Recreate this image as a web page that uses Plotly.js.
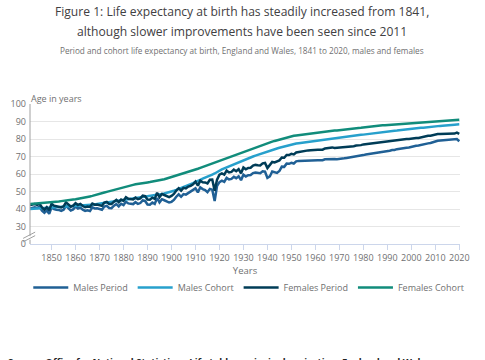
<!DOCTYPE html>
<html>
<head>
<meta charset="utf-8">
<script src="https://cdn.plot.ly/plotly-3.0.1.min.js"></script>
<style>html,body{margin:0;padding:0;background:#fff;}#chart{width:485px;height:360px;}</style>
</head>
<body>
<div id="chart"></div>
<script>
const firstYear = 1841;
const lastYear = 2020;
const seriesNames = ["Males Period", "Males Cohort", "Females Period", "Females Cohort"];
const xTickYears = [1850,1860,1870,1880,1890,1900,1910,1920,1930,1940,1950,1960,1970,1980,1990,2000,2010,2020];
const yTickVals = [20,30,40,50,60,70,80,90,100];
const yTickText = ["0","30","40","50","60","70","80","90","100"];

const malesPeriod = [
40.2,40.4,41.0,40.6,41.2,39.0,37.8,39.2,37.2,41.0,
40.0,39.6,39.5,38.9,39.6,41.8,40.6,39.2,39.8,41.4,
40.3,40.8,39.6,38.9,39.2,38.8,40.9,40.3,40.4,39.8,
39.6,41.4,41.8,40.6,40.5,41.9,42.8,41.5,43.0,42.2,
44.2,43.2,43.1,42.8,43.9,42.9,43.4,44.9,44.6,42.6,
42.5,43.7,42.9,46.3,43.8,45.6,45.0,44.4,43.7,44.1,
45.2,47.0,48.4,47.0,48.5,48.2,49.1,49.5,50.4,51.8,
49.5,52.4,51.4,50.8,49.6,51.5,51.0,44.6,53.2,55.4,
56.2,55.5,57.8,56.9,57.2,58.4,57.6,58.7,56.5,59.6,
58.6,59.3,59.4,60.5,60.8,60.5,60.4,61.5,61.3,57.8,
58.6,61.4,60.8,60.6,61.7,64.2,64.1,65.9,65.8,66.4,
66.0,67.2,67.5,67.6,67.6,67.8,67.9,67.9,68.1,68.2,
67.9,67.9,67.9,68.4,68.5,68.4,68.9,68.6,68.5,68.8,
69.1,69.0,69.2,69.4,69.6,69.6,70.1,70.2,70.4,70.8,
71.1,71.3,71.5,71.8,71.8,72.1,72.4,72.6,72.8,73.1,
73.3,73.7,73.7,74.2,74.3,74.5,74.8,75.0,75.2,75.6,
75.9,76.1,76.3,76.7,77.0,77.3,77.5,77.7,78.3,78.6,
79.0,79.1,79.2,79.5,79.3,79.5,79.6,79.6,80.0,78.7];

const malesCohort = [
40.0,40.1,40.1,40.2,40.3,40.3,40.4,40.4,40.5,40.6,
40.6,40.7,40.8,40.9,41.0,41.1,41.2,41.3,41.4,41.5,
41.6,41.7,41.9,42.0,42.1,42.3,42.5,42.6,42.8,43.0,
43.2,43.4,43.6,43.8,44.0,44.2,44.4,44.6,44.8,45.0,
45.2,45.4,45.6,45.8,46.0,46.2,46.5,46.8,47.1,47.3,
47.5,47.7,47.9,48.2,48.4,48.6,48.9,49.2,49.6,50.0,
50.4,50.9,51.4,51.9,52.4,52.9,53.5,54.1,54.8,55.5,
55.9,56.6,57.3,58.0,58.6,59.2,59.7,60.3,61.2,62.0,
62.6,63.2,63.8,64.4,65.0,65.6,66.2,66.8,67.4,68.0,
68.5,69.0,69.5,70.0,70.5,71.0,71.5,72.0,72.5,73.0,
73.4,73.8,74.2,74.6,75.0,75.4,75.8,76.2,76.6,77.0,
77.2,77.4,77.6,77.8,78.0,78.2,78.4,78.6,78.8,79.0,
79.2,79.4,79.6,79.8,80.0,80.2,80.4,80.5,80.7,80.9,
81.0,81.2,81.4,81.5,81.7,81.9,82.0,82.2,82.4,82.5,
82.7,82.9,83.0,83.2,83.4,83.5,83.7,83.9,84.0,84.2,
84.4,84.5,84.7,84.8,85.0,85.1,85.3,85.5,85.6,85.8,
85.9,86.1,86.2,86.4,86.5,86.7,86.8,87.0,87.1,87.2,
87.4,87.5,87.6,87.8,87.9,88.0,88.1,88.2,88.3,88.4];

const femalesPeriod = [
42.2,42.3,42.8,42.4,43.0,40.9,39.6,41.0,39.3,43.0,
41.9,41.6,41.4,40.9,41.5,43.8,42.6,41.3,41.9,43.3,
42.3,42.9,41.7,41.0,41.4,41.2,43.1,42.5,42.6,42.0,
41.8,43.7,44.1,42.8,42.8,44.2,45.2,43.9,45.4,44.7,
46.7,45.8,45.7,45.5,46.5,45.6,46.1,47.6,47.3,45.4,
45.3,46.5,45.8,49.3,46.8,48.6,48.0,47.4,46.8,47.5,
48.6,50.5,51.9,50.5,52.1,51.8,52.8,53.2,54.1,55.6,
53.3,56.2,55.3,55.2,54.6,56.7,56.8,50.5,56.8,59.6,
60.3,59.6,61.9,60.9,61.2,62.5,61.6,62.8,60.4,63.7,
62.7,63.5,63.6,64.8,65.2,65.0,64.9,66.1,66.3,63.4,
64.9,66.9,66.6,67.3,67.8,69.4,69.3,70.9,70.8,71.5,
71.2,72.3,72.6,73.0,73.0,73.3,73.5,73.6,73.8,74.1,
73.9,73.8,73.9,74.6,74.8,74.8,75.2,74.9,75.0,75.2,
75.4,75.3,75.5,75.6,75.8,75.9,76.3,76.3,76.5,76.9,
77.1,77.3,77.4,77.6,77.6,77.7,78.1,78.2,78.3,78.7,
78.9,79.2,79.1,79.6,79.5,79.7,79.9,80.0,80.0,80.3,
80.5,80.6,80.6,81.0,81.3,81.6,81.8,81.9,82.3,82.6,
82.9,82.9,82.9,83.2,82.9,83.1,83.1,83.1,83.6,82.9];

const femalesCohort = [
42.8,42.9,43.0,43.1,43.2,43.3,43.4,43.5,43.7,43.9,
44.0,44.2,44.3,44.5,44.6,44.8,45.0,45.2,45.4,45.6,
45.8,46.0,46.3,46.6,46.9,47.2,47.5,47.8,48.2,48.6,
49.0,49.4,49.8,50.2,50.6,51.0,51.4,51.8,52.2,52.6,
52.9,53.2,53.5,53.8,54.1,54.4,54.6,54.8,55.0,55.2,
55.4,55.6,55.8,56.1,56.4,56.7,57.0,57.4,57.8,58.2,
58.6,59.0,59.4,59.8,60.2,60.6,61.1,61.6,62.1,62.6,
63.0,63.5,64.0,64.6,65.1,65.6,66.1,66.6,67.1,67.6,
68.1,68.6,69.1,69.7,70.3,70.9,71.4,71.9,72.4,72.9,
73.4,73.9,74.4,74.9,75.4,75.9,76.4,76.9,77.3,77.7,
78.1,78.5,78.9,79.3,79.7,80.1,80.5,80.9,81.2,81.5,
81.8,82.0,82.2,82.4,82.6,82.8,83.0,83.2,83.4,83.6,
83.7,83.9,84.0,84.2,84.3,84.5,84.6,84.8,84.9,85.1,
85.2,85.4,85.5,85.7,85.8,86.0,86.1,86.3,86.4,86.6,
86.7,86.9,87.0,87.2,87.3,87.5,87.6,87.8,87.9,88.0,
88.2,88.3,88.4,88.6,88.7,88.8,89.0,89.1,89.2,89.3,
89.4,89.5,89.6,89.7,89.8,89.9,90.0,90.1,90.2,90.3,
90.4,90.4,90.5,90.6,90.6,90.7,90.8,90.8,90.9,91.0];

const years = [];
for (let y = firstYear; y <= lastYear; y++) years.push(y);

const colors = ["#206095", "#27a0cc", "#003c57", "#118c7b"];
const allSeries = [malesPeriod, malesCohort, femalesPeriod, femalesCohort];

const traces = allSeries.map((vals, i) => ({
  type: "scatter", mode: "lines", x: years, y: vals, name: seriesNames[i],
  line: {color: colors[i], width: 2.5}, hoverinfo: "x+y+name"
}));

const font = "'Open Sans', 'Noto Sans', sans-serif";
const gray = "#707071";

const layout = {
  width: 485, height: 360,
  margin: {l: 30, r: 25, t: 104, b: 116, pad: 0},
  paper_bgcolor: "#fff", plot_bgcolor: "#fff",
  font: {family: font, color: gray, size: 9},
  xaxis: {
    range: [firstYear, lastYear + 0.3],
    tickvals: xTickYears,
    ticks: "outside", ticklen: 5, tickcolor: "#ccd6eb", tickwidth: 1,
    showgrid: false, zeroline: false,
    showline: true, linecolor: "#ccd6eb", linewidth: 1,
    tickfont: {size: 9, color: gray},
    title: {text: "Years", font: {size: 9.5, color: gray}, standoff: 4}
  },
  yaxis: {
    range: [20, 100],
    tickvals: yTickVals, ticktext: yTickText,
    showgrid: true, gridcolor: "#e6e6e6", gridwidth: 1,
    zeroline: false, showline: false, ticklabelstandoff: 3,
    ticks: "", tickfont: {size: 9, color: gray}
  },
  legend: {
    orientation: "h", x: -0.004, xanchor: "left", y: -0.31, yanchor: "middle",
    font: {size: 9, color: gray}, itemwidth: 35, tracegroupgap: 0
  },
  showlegend: true,
  shapes: [
    {type: "line", xref: "paper", yref: "y", x0: 0, x1: 0, y0: 100, y1: 24.5, line: {color: "#a0a0a0", width: 1}},
    {type: "line", xref: "paper", yref: "y", x0: 0, x1: 0, y0: 22.5, y1: 20, line: {color: "#a0a0a0", width: 1}},
    {type: "line", xref: "paper", yref: "y", x0: -0.016, x1: 0.012, y0: 23.2, y1: 26.8, line: {color: "#a0a0a0", width: 1}},
    {type: "line", xref: "paper", yref: "y", x0: -0.016, x1: 0.012, y0: 21.2, y1: 24.8, line: {color: "#a0a0a0", width: 1}}
  ],
  annotations: [
    {text: "Figure 1: Life expectancy at birth has steadily increased from 1841,",
     xref: "paper", yref: "paper", x: 0.493, xanchor: "center", y: (244 - 12) / 140, yanchor: "middle",
     showarrow: false, font: {family: font, size: 12.1, color: "#414042"}},
    {text: "although slower improvements have been seen since 2011",
     xref: "paper", yref: "paper", x: 0.493, xanchor: "center", y: (244 - 31.5) / 140, yanchor: "middle",
     showarrow: false, font: {family: font, size: 12.1, color: "#414042"}},
    {text: "Period and cohort life expectancy at birth, England and Wales, 1841 to 2020, males and females",
     xref: "paper", yref: "paper", x: 0.493, xanchor: "center", y: (244 - 50.5) / 140, yanchor: "middle",
     showarrow: false, font: {size: 8.2, color: gray}},
    {text: "Age in years", xref: "paper", yref: "paper", x: -0.002, xanchor: "left", y: 1.0, yanchor: "bottom",
     yshift: -3, showarrow: false, font: {size: 9, color: gray}},
    {text: "<b>Source: Office for National Statistics – Life tables, principal projection, England and Wales</b>",
     xref: "paper", yref: "paper", x: -0.055, xanchor: "left", y: -0.78, yanchor: "top",
     showarrow: false, font: {size: 9.5, color: "#222222"}}
  ]
};

Plotly.newPlot("chart", traces, layout, {displayModeBar: false, staticPlot: true});
</script>
</body>
</html>
